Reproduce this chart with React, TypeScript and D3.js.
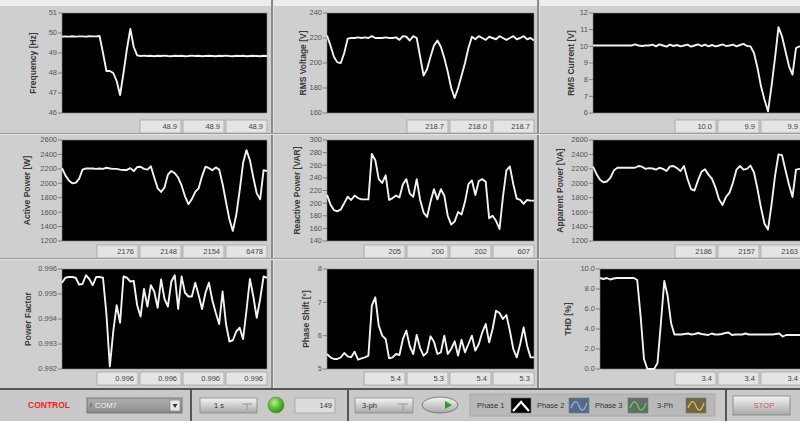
import React from 'react';
import * as d3 from 'd3';

const W = 800;
const H = 421;

// sampled traces, index 0..60 across each graph
const frequency = [
  49.82, 49.83, 49.82, 49.84, 49.82, 49.83, 49.83, 49.82, 49.84, 49.83,
  49.83, 49.85, 49.0, 48.1, 48.1, 48.0, 47.6, 46.9, 48.0, 49.2,
  50.2, 49.3, 48.88, 48.85, 48.87, 48.85, 48.86, 48.84, 48.86, 48.85,
  48.87, 48.85, 48.84, 48.86, 48.85, 48.86, 48.84, 48.85, 48.87, 48.85,
  48.86, 48.84, 48.85, 48.86, 48.85, 48.84, 48.86, 48.85, 48.87, 48.85,
  48.84, 48.86, 48.85, 48.86, 48.84, 48.85, 48.86, 48.85, 48.84, 48.86, 48.85,
];
const voltage = [
  222, 214, 205, 200.5, 200, 208, 219.5, 220, 220, 220.5,
  220, 220.5, 220, 221.5, 220, 220, 220, 220.5, 220, 220,
  220.5, 218.5, 221.5, 221, 218, 221.5, 220, 205, 190, 195,
  205, 214, 218, 213, 204, 193, 180, 172, 180, 190,
  200, 212, 221, 219, 221.5, 220, 218.5, 221, 220, 219,
  221.5, 220, 218.5, 220, 221.5, 219, 220, 221.5, 219, 220, 218,
];
const current = [
  10.05, 10.05, 10.05, 10.05, 10.05, 10.05, 10.05, 10.05, 10.05, 10.05,
  10.05, 10.05, 10.12, 10.05, 10.02, 10.05, 10.05, 10.1, 10.0, 10.12,
  10.05, 9.98, 10.1, 10.02, 10.08, 10.0, 10.05, 10.1, 9.98, 10.05,
  10.12, 10.02, 10.1, 10.0, 10.08, 10.0, 10.05, 10.12, 10.02, 10.05,
  10.1, 10.0, 10.08, 10.15, 10.02, 10.0, 9.6, 8.7, 7.6, 6.8,
  6.1, 7.6, 9.3, 11.15, 10.6, 9.7, 8.8, 8.3, 9.9, 10.0, 10.0,
];
const activePower = [
  2210, 2110, 2040, 2000, 2005, 2060, 2190, 2205, 2205, 2205,
  2200, 2205, 2200, 2215, 2205, 2200, 2200, 2190, 2185, 2185,
  2210, 2170, 2225, 2230, 2200, 2190, 2235, 2080, 1930, 1880,
  1940, 2120, 2170, 2140, 2080, 1970, 1820, 1710, 1780, 1880,
  1930, 2100, 2230, 2210, 2180, 2220, 2190, 1990, 1740, 1500,
  1340, 1560, 1900, 2280, 2460, 2320, 2080, 1860, 1780, 2180, 2170,
];
const reactivePower = [
  213, 198, 189, 187, 190, 200, 210, 205, 212, 208,
  206, 206, 206, 278, 268, 238, 232, 244, 205, 208,
  212, 209, 230, 238, 215, 210, 238, 205, 185, 178,
  202, 222, 206, 222, 212, 180, 166, 171, 186, 182,
  202, 230, 236, 213, 235, 238, 234, 176, 180, 172,
  159, 210, 252, 258, 230, 207, 205, 199, 205, 204, 204,
];
const apparentPower = [
  2230, 2130, 2050, 2015, 2025, 2080, 2180, 2215, 2215, 2215,
  2215, 2215, 2215, 2240, 2230, 2200, 2210, 2205, 2190, 2215,
  2200, 2170, 2235, 2240, 2210, 2170, 2240, 2060, 1920, 1900,
  2040, 2160, 2195, 2120, 2060, 1940, 1780, 1700, 1810, 1870,
  2010, 2190, 2240, 2190, 2200, 2245, 2150, 1920, 1660, 1440,
  1360, 1700, 2100, 2400, 2390, 2180, 1980, 1810, 2190, 2200, 2195,
];
const powerFactor = [
  0.99545, 0.99565, 0.99568, 0.99568, 0.99565, 0.99538, 0.9954, 0.99575, 0.9956, 0.99535,
  0.99568, 0.99568, 0.99565, 0.9942, 0.9921, 0.9935, 0.99455, 0.99385, 0.9957, 0.99565,
  0.9955, 0.99552, 0.99455, 0.9941, 0.9952, 0.9945, 0.99535, 0.9951, 0.99445, 0.99558,
  0.9948, 0.9945, 0.9955, 0.99575, 0.9944, 0.9957, 0.99505, 0.9949, 0.9949, 0.99545,
  0.99495, 0.9944, 0.99505, 0.99545, 0.99475, 0.99425, 0.9938, 0.9951, 0.9938, 0.9931,
  0.99315, 0.9935, 0.99365, 0.9932, 0.99435, 0.9956, 0.9949, 0.99405, 0.9948, 0.9957, 0.99565,
];
const phaseShift = [
  5.45, 5.35, 5.3, 5.3, 5.35, 5.48, 5.38, 5.35, 5.52, 5.28,
  5.32, 5.35, 5.4, 6.9, 7.15, 6.3, 6.0, 5.9, 5.32, 5.35,
  5.45, 5.42, 5.9, 6.15, 5.68, 5.45, 6.02, 5.62, 5.4, 5.5,
  5.98, 5.82, 5.45, 5.5, 6.0, 5.45, 5.6, 5.83, 5.4, 5.88,
  5.5, 5.75, 6.0, 5.55, 5.75, 6.1, 6.35, 5.8, 6.2, 6.75,
  6.68, 6.5, 6.62, 6.15, 5.6, 5.35, 5.75, 6.25, 5.7, 5.35, 5.35,
];
const thd = [
  9.1, 9.0, 9.1, 8.95, 9.05, 9.1, 9.1, 9.1, 9.1, 9.1,
  9.1, 8.9, 5.3, 1.0, 0, 0, 0, 0.6, 4.6, 8.8,
  7.3, 4.6, 3.45, 3.45, 3.45, 3.5, 3.55, 3.45, 3.5, 3.6,
  3.5, 3.45, 3.4, 3.55, 3.45, 3.45, 3.5, 3.6, 3.65, 3.4,
  3.45, 3.45, 3.45, 3.55, 3.45, 3.45, 3.45, 3.45, 3.45, 3.45,
  3.45, 3.45, 3.5, 3.55, 3.25, 3.4, 3.4, 3.4, 3.4, 3.4, 3.4,
];

// axis ticks
const freqTicks = [46, 47, 48, 49, 50, 51];
const voltTicks = [160, 180, 200, 220, 240];
const currTicks = [6, 7, 8, 9, 10, 11, 12];
const powerTicks = [1200, 1400, 1600, 1800, 2000, 2200, 2400, 2600];
const reactTicks = [140, 160, 180, 200, 220, 240, 260, 280, 300];
const pfTicks = [0.992, 0.993, 0.994, 0.995, 0.996];
const phaseTicks = [5, 6, 7, 8];
const thdTicks = [0, 2, 4, 6, 8, 10];

// numeric indicators under each graph
const freqReadings = ['48.9', '48.9', '48.9'];
const voltReadings = ['218.7', '218.0', '218.7'];
const currReadings = ['10.0', '9.9', '9.9'];
const activeReadings = ['2176', '2148', '2154', '6478'];
const reactReadings = ['205', '200', '202', '607'];
const apparentReadings = ['2186', '2157', '2163'];
const pfReadings = ['0.996', '0.996', '0.996', '0.996'];
const phaseReadings = ['5.4', '5.3', '5.4', '5.3'];
const thdReadings = ['3.4', '3.4', '3.4'];

const legendNames = ['Phase 1', 'Phase 2', 'Phase 3', '3-Ph'];

const FONT = '"Liberation Sans", Arial, sans-serif';

const cols = [
  { x0: 62, x1: 267, right: 267 },
  { x0: 327, x1: 534, right: 534 },
  { x0: 593, x1: 803, right: 802 },
];
const rows = [
  { y0: 13, y1: 113, box: 120 },
  { y0: 140, y1: 241, box: 245 },
  { y0: 269, y1: 369, box: 372 },
];

const panels = [
  { label: 'Frequency [Hz]', values: frequency, ticks: freqTicks, fmt: d3.format('d'), col: 0, row: 0, lx: 33, readings: freqReadings },
  { label: 'RMS Voltage [V]', values: voltage, ticks: voltTicks, fmt: d3.format('d'), col: 1, row: 0, lx: 303, readings: voltReadings },
  { label: 'RMS Current [V]', values: current, ticks: currTicks, fmt: d3.format('d'), col: 2, row: 0, lx: 571, readings: currReadings },
  { label: 'Active Power [W]', values: activePower, ticks: powerTicks, fmt: d3.format('d'), col: 0, row: 1, lx: 27, readings: activeReadings },
  { label: 'Reactive Power [VAR]', values: reactivePower, ticks: reactTicks, fmt: d3.format('d'), col: 1, row: 1, lx: 297, readings: reactReadings },
  { label: 'Apparent Power [VA]', values: apparentPower, ticks: powerTicks, fmt: d3.format('d'), col: 2, row: 1, lx: 560, readings: apparentReadings },
  { label: 'Power Factor', values: powerFactor, ticks: pfTicks, fmt: d3.format('.3f'), col: 0, row: 2, lx: 28, readings: pfReadings },
  { label: 'Phase Shift [°]', values: phaseShift, ticks: phaseTicks, fmt: d3.format('d'), col: 1, row: 2, lx: 306, readings: phaseReadings },
  { label: 'THD [%]', values: thd, ticks: thdTicks, fmt: d3.format('.1f'), col: 2, row: 2, lx: 568, readings: thdReadings, x0: 600 },
];

function Graph({ p }: { p: any }) {
  const c = cols[p.col];
  const r = rows[p.row];
  const x0 = p.x0 ?? c.x0;
  const x = d3.scaleLinear().domain([0, p.values.length - 1]).range([x0, c.x1]);
  const y = d3.scaleLinear().domain(d3.extent(p.ticks) as [number, number]).range([r.y1, r.y0]);
  const line = d3.line<number>().x((_, i) => x(i)).y(d => y(d)).curve(d3.curveLinear);
  const bw = 41;
  const step = 43;
  return (
    <g>
      <rect x={x0} y={r.y0} width={c.x1 - x0} height={r.y1 - r.y0} fill="#000" stroke="#8a8a8a" strokeWidth={0.6} />
      {p.ticks.map((t: number) => (
        <g key={t}>
          <line x1={x0 - 4} x2={x0} y1={y(t)} y2={y(t)} stroke="#6a6a6a" strokeWidth={0.8} />
          <text x={x0 - 5} y={y(t)} dy="0.33em" textAnchor="end" fontSize={7.5} fill="#555" fontFamily={FONT}>
            {p.fmt(t)}
          </text>
        </g>
      ))}
      <text
        transform={`translate(${p.lx},${(r.y0 + r.y1) / 2}) rotate(-90)`}
        textAnchor="middle"
        dy="0.35em"
        fontSize={8.5}
        fontWeight="bold"
        fill="#3a3a3a"
        fontFamily={FONT}
      >
        {p.label}
      </text>
      <path d={line(p.values) || ''} fill="none" stroke="#f2f2f2" strokeWidth={1.9} strokeLinejoin="round" />
      {p.readings.map((v: string, i: number) => {
        const bx = c.right - bw - (p.readings.length - 1 - i) * step;
        return (
          <g key={i}>
            <rect x={bx} y={r.box} width={bw} height={13} fill="#e4e4e4" stroke="#a2a2a2" strokeWidth={0.8} />
            <text x={bx + bw - 4} y={r.box + 6.5} dy="0.35em" textAnchor="end" fontSize={7.5} fill="#444" fontFamily={FONT}>
              {v}
            </text>
          </g>
        );
      })}
    </g>
  );
}

function LegendIcon({ x, bg, stroke, peak }: { x: number; bg: string; stroke: string; peak?: boolean }) {
  const ix = d3.scaleLinear().domain([0, 1]).range([x + 2, x + 18]);
  const wave = peak
    ? `M${ix(0)},411 L${ix(0.5)},402 L${ix(1)},411`
    : `M${ix(0)},408 C${ix(0.2)},400 ${ix(0.35)},400 ${ix(0.5)},406 S${ix(0.8)},412 ${ix(1)},403`;
  return (
    <g>
      <rect x={x} y={398} width={20} height={15} fill={bg} stroke="#777" strokeWidth={0.6} />
      <path d={wave} fill="none" stroke={stroke} strokeWidth={peak ? 2.2 : 1.3} />
    </g>
  );
}

export default function App() {
  const legendX = [477, 537, 595, 657];
  const iconX = [511, 569, 628, 686];
  const icons = [
    { bg: '#050505', stroke: '#ffffff', peak: true },
    { bg: '#566a86', stroke: '#8fb0e0' },
    { bg: '#5e7160', stroke: '#74c070' },
    { bg: '#6f6648', stroke: '#d8c040' },
  ];
  return (
    <svg width={W} height={H} style={{ position: 'fixed', left: 0, top: 0, display: 'block' }}>
      <defs>
        <radialGradient id="led" cx="40%" cy="35%" r="65%">
          <stop offset="0%" stopColor="#b8f090" />
          <stop offset="55%" stopColor="#5cc030" />
          <stop offset="100%" stopColor="#3a8a20" />
        </radialGradient>
        <linearGradient id="btn" x1="0" y1="0" x2="0" y2="1">
          <stop offset="0%" stopColor="#f4f4f4" />
          <stop offset="100%" stopColor="#a8a8a8" />
        </linearGradient>
        <linearGradient id="combo" x1="0" y1="0" x2="0" y2="1">
          <stop offset="0%" stopColor="#b0b0b0" />
          <stop offset="100%" stopColor="#8c8c8c" />
        </linearGradient>
      </defs>
      <rect width={W} height={H} fill="#cfcfcf" />
      <rect width={W} height={6} fill="#ededed" />
      {/* panel separators */}
      <rect x={271} y={0} width={2} height={390} fill="#8a8a8a" />
      <rect x={273} y={0} width={1} height={390} fill="#e2e2e2" />
      <rect x={537} y={0} width={2} height={390} fill="#8a8a8a" />
      <rect x={539} y={0} width={1} height={390} fill="#e2e2e2" />
      <rect x={0} y={133} width={W} height={1} fill="#9a9a9a" />
      <rect x={0} y={134} width={W} height={1} fill="#e2e2e2" />
      <rect x={0} y={258} width={W} height={1} fill="#9a9a9a" />
      <rect x={0} y={259} width={W} height={1} fill="#e2e2e2" />

      {panels.map((p, i) => (
        <Graph key={i} p={p} />
      ))}

      {/* control bar */}
      <rect x={0} y={389} width={W} height={32} fill="#c9c9c9" />
      <rect x={0} y={388} width={W} height={2} fill="#555" />
      <rect x={190} y={390} width={2} height={31} fill="#555" />
      <rect x={347} y={390} width={2} height={31} fill="#555" />
      <rect x={725} y={390} width={2} height={31} fill="#555" />

      <text x={28} y={405} dy="0.35em" fontSize={8.5} fontWeight="bold" fill="#e8262a" fontFamily={FONT}>CONTROL</text>
      <rect x={87} y={398} width={95} height={15} fill="url(#combo)" stroke="#6a6a6a" strokeWidth={0.8} />
      <text x={90} y={405} dy="0.35em" fontSize={6} fill="#222" fontFamily={FONT}>I</text>
      <text x={95} y={405} dy="0.35em" fontSize={7.5} fill="#f0f0f0" fontFamily={FONT}>COM7</text>
      <rect x={170} y={400} width={10} height={11} fill="#e8e8e8" stroke="#777" strokeWidth={0.6} />
      <path d="M172.5,404 L177.5,404 L175,408 Z" fill="#333" />

      <rect x={200} y={398} width={57} height={15} fill="url(#btn)" stroke="#8a8a8a" strokeWidth={0.8} />
      <text x={214} y={405} dy="0.35em" fontSize={7.5} fill="#333" fontFamily={FONT}>1 s</text>
      <path d="M242,404 L252,404 M247,404 L247,410" stroke="#888" strokeWidth={0.8} fill="none" />
      <circle cx={276} cy={405} r={8} fill="url(#led)" stroke="#5a8a40" strokeWidth={0.6} />
      <rect x={295} y={398} width={40} height={15} fill="#dcdcdc" stroke="#a0a0a0" strokeWidth={0.8} />
      <text x={332} y={405} dy="0.35em" textAnchor="end" fontSize={7.5} fill="#333" fontFamily={FONT}>149</text>

      <rect x={355} y={398} width={58} height={15} fill="url(#btn)" stroke="#8a8a8a" strokeWidth={0.8} />
      <text x={362} y={405} dy="0.35em" fontSize={7.5} fill="#333" fontFamily={FONT}>3-ph</text>
      <path d="M398,404 L408,404 M403,404 L403,410" stroke="#888" strokeWidth={0.8} fill="none" />
      <ellipse cx={440} cy={405} rx={18} ry={8} fill="url(#btn)" stroke="#777" strokeWidth={0.9} />
      <path d="M445,401 L452,405 L445,409 Z" fill="#2c9a2c" />

      <rect x={470} y={394} width={245} height={22} fill="#b9b9b9" stroke="#9a9a9a" strokeWidth={0.6} />
      {legendNames.map((n, i) => (
        <g key={n}>
          <text x={legendX[i]} y={405} dy="0.35em" fontSize={7.5} fill="#333" fontFamily={FONT}>{n}</text>
          <LegendIcon x={iconX[i]} {...icons[i]} />
        </g>
      ))}

      <rect x={733} y={396} width={57} height={19} fill="url(#btn)" stroke="#8a8a8a" strokeWidth={0.9} />
      <text x={764} y={405.5} dy="0.35em" textAnchor="middle" fontSize={7.5} fill="#f04a3a" fontFamily={FONT}>STOP</text>
    </svg>
  );
}
